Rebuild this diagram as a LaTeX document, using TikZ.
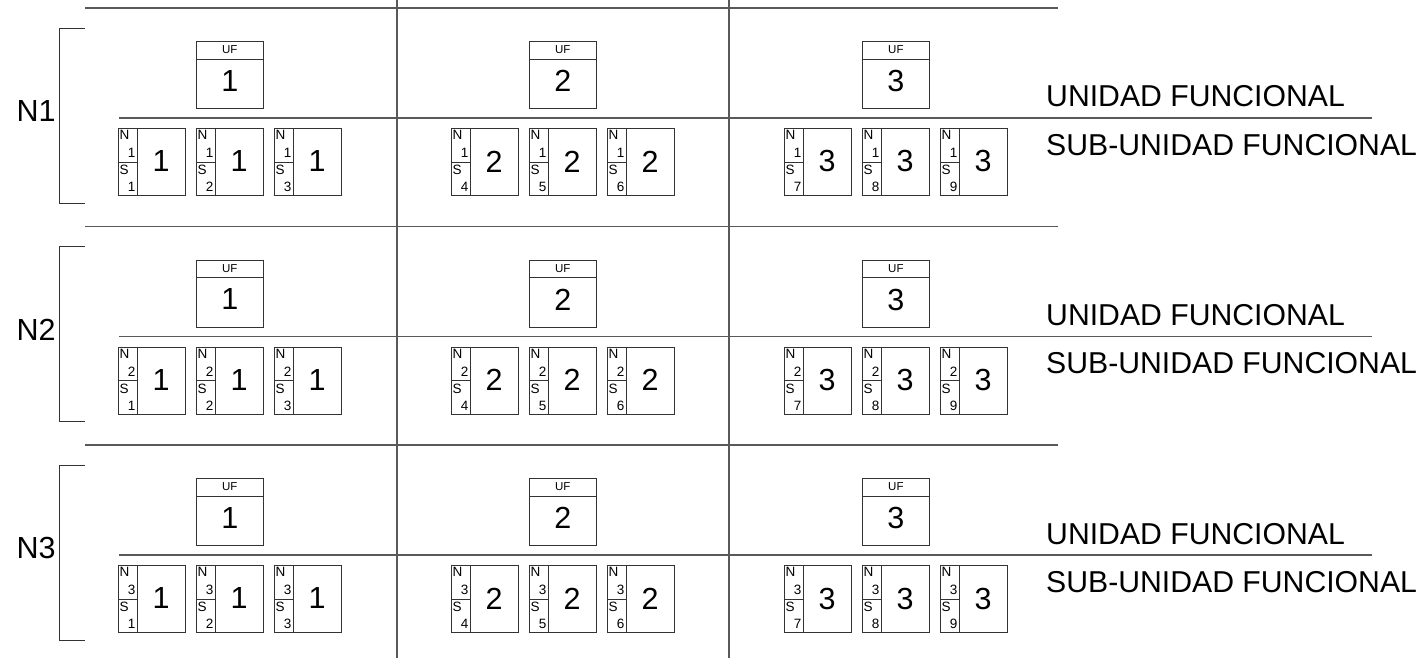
\documentclass[tikz,border=0pt]{standalone}
\usepackage{fontspec}
\setmainfont{Liberation Sans}

\begin{document}
\begin{tikzpicture}[x = 1pt, y = -1pt,
        rule/.style = {draw = black!65, line width = 1.1pt},
        box/.style = {draw = black!80, line width = .7pt, minimum width = 67pt, minimum height = 67pt, anchor = north west, inner sep = 0pt},
        sep/.style = {draw = black!80, line width = .7pt},
        num/.style = {font = \fontsize{30.5}{31}\selectfont, inner sep = 0pt},
        small/.style = {font = \fontsize{13.5}{14}\selectfont, inner sep = 0pt},
        uftxt/.style = {font = \fontsize{11.5}{12}\selectfont, inner sep = 0pt},
        legend/.style = {font = \fontsize{30.2}{31}\selectfont, anchor = base west, inner sep = 0pt}
    ]
        \useasboundingbox (0,0) rectangle (1426,658);
        \draw[rule] (397,0) -- (397,658);
        \draw[rule] (729,0) -- (729,658);
        \foreach \r in {1,2,3} {
            \pgfmathsetmacro{\dy}{(\r-1)*218.5}
            \draw[rule] (85,\dy+8) -- (1058,\dy+8);
            \draw[rule] (119,\dy+118) -- (1372,\dy+118);
            \draw[sep] (85,\dy+28) -- (59,\dy+28) -- (59,\dy+203) -- (85,\dy+203);
            \node[num] (n\r) at (36,\dy+111) {N\r};
            \node[legend] (uf\r) at (1046,\dy+107) {UNIDAD FUNCIONAL};
            \node[legend] (suf\r) at (1046,\dy+155) {SUB-UNIDAD FUNCIONAL};
            \foreach \c in {1,2,3} {
                \pgfmathsetmacro{\dx}{(\c-1)*333}
                % unidad funcional
                \node[box] (u\r\c) at (\dx+196,\dy+41) {};
                \draw[sep] ([shift={(0,18)}]u\r\c.north west) -- ([shift={(0,18)}]u\r\c.north east);
                \node[uftxt] at ([shift={(0,9)}]u\r\c.north) {UF};
                \node[num] at ([shift={(0,40)}]u\r\c.north) {\c};
                % sub-unidades
                \foreach \k in {1,2,3} {
                    \pgfmathtruncatemacro{\s}{(\c-1)*3+\k}
                    \pgfmathsetmacro{\sx}{\dx+118+(\k-1)*78}
                    \node[box] (s\r\s) at (\sx,\dy+128) {};
                    \draw[sep] ([shift={(19,0)}]s\r\s.north west) -- ([shift={(19,0)}]s\r\s.south west);
                    \draw[sep] ([shift={(0,34)}]s\r\s.north west) -- ([shift={(19,34)}]s\r\s.north west);
                    \node[small, anchor = west] at ([shift={(1.5,7)}]s\r\s.north west) {N};
                    \node[small, anchor = east] at ([shift={(17.5,25)}]s\r\s.north west) {\r};
                    \node[small, anchor = west] at ([shift={(1.5,42)}]s\r\s.north west) {S};
                    \node[small, anchor = east] at ([shift={(17.5,59)}]s\r\s.north west) {\s};
                    \node[num] at ([shift={(43,33.5)}]s\r\s.north west) {\c};
                }
            }
        }
    \end{tikzpicture}
\end{document}
